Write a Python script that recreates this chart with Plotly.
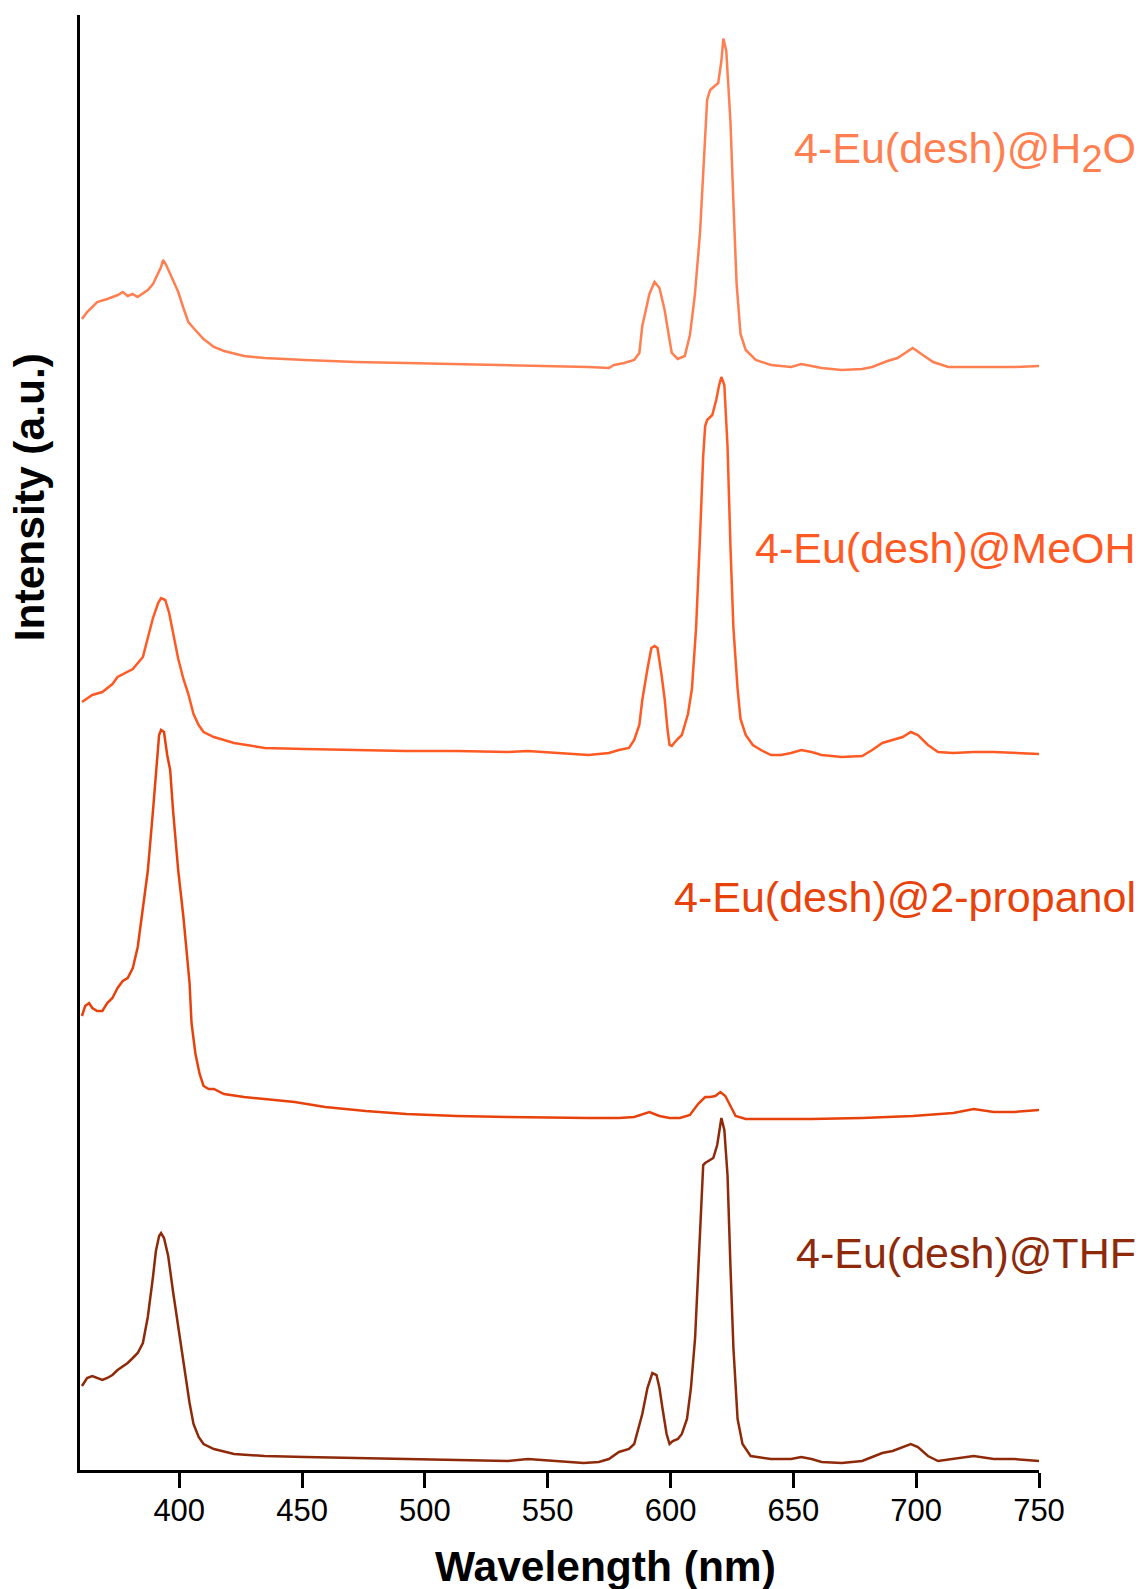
import plotly.graph_objects as go

# ---------------- data ----------------
wl_h2o = [360.4, 362.5, 366.6, 370.7, 375.0, 377.0, 379.0, 381.0, 383.0, 385.0, 387.2, 389.3, 391.4,
          392.6, 393.4, 394.7, 396.7, 399.6, 401.7, 403.7, 405.8, 409.9, 414.1, 418.2, 426.4,
          434.7, 451.2, 471.8, 492.4, 513.0, 533.7, 554.3, 566.6, 574.9, 577.0, 581.1, 585.2,
          587.3, 588.5, 591.4, 593.5, 595.5, 597.6, 599.6, 600.5, 602.9, 605.8, 607.9, 609.9,
          612.0, 614.1, 614.9, 616.1, 618.2, 619.4, 620.7, 621.5, 622.7, 624.4, 625.6, 626.9,
          628.5, 630.6, 634.7, 640.9, 649.1, 653.2, 657.4, 661.5, 669.7, 678.0, 682.1, 688.3,
          692.4, 695.7, 698.6, 702.7, 706.9, 713.1, 719.2, 739.9, 750.0]
int_h2o = [115.1, 115.8, 116.8, 117.1, 117.5, 117.8, 117.4, 117.6, 117.3, 117.6, 118.0, 118.6, 119.6,
           120.3, 121.0, 120.5, 119.4, 117.8, 116.2, 114.8, 114.2, 113.1, 112.3, 111.9, 111.4,
           111.2, 111.0, 110.8, 110.7, 110.6, 110.5, 110.4, 110.3, 110.2, 110.5, 110.7, 111.0,
           111.7, 114.4, 117.6, 118.8, 118.2, 116.0, 113.0, 111.7, 111.1, 111.4, 113.5, 117.5,
           123.7, 132.8, 137.0, 138.0, 138.4, 138.7, 140.9, 143.15, 141.9, 134.8, 126.7, 118.6,
           113.6, 112.0, 111.0, 110.5, 110.3, 110.6, 110.4, 110.2, 110.0, 110.1, 110.3, 110.9,
           111.2, 111.7, 112.2, 111.5, 110.8, 110.3, 110.3, 110.3, 110.4]

wl_meoh = [360.4, 364.6, 368.7, 372.8, 374.9, 377.0, 381.1, 385.2, 387.2, 389.3, 391.4, 392.6, 394.3,
           395.9, 397.5, 399.6, 401.7, 403.7, 405.8, 407.9, 409.9, 414.1, 422.3, 434.7, 451.2,
           471.8, 492.4, 513.0, 533.7, 541.9, 554.3, 566.6, 574.9, 579.0, 583.1, 585.2, 587.3,
           588.5, 590.6, 592.2, 593.5, 594.7, 596.3, 597.6, 598.8, 599.6, 600.5, 602.5, 604.6,
           607.1, 608.7, 610.4, 612.0, 613.3, 614.1, 614.9, 617.0, 618.6, 619.8, 620.7, 621.9,
           623.2, 624.4, 625.6, 627.3, 628.5, 630.6, 633.5, 636.8, 640.9, 645.0, 649.1, 653.2,
           657.4, 661.5, 669.7, 678.0, 682.1, 686.2, 690.4, 694.5, 697.8, 700.7, 704.8, 708.9,
           715.1, 723.4, 731.6, 739.9, 750.0]
int_meoh = [76.8, 77.5, 77.8, 78.6, 79.3, 79.6, 80.1, 81.3, 83.2, 85.2, 86.7, 87.2, 87.0,
            85.7, 83.7, 81.1, 79.1, 77.6, 75.6, 74.5, 73.8, 73.3, 72.7, 72.2, 72.1,
            72.0, 71.9, 71.9, 71.8, 71.9, 71.7, 71.5, 71.7, 72.0, 72.2, 73.0, 74.5,
            77.0, 80.1, 82.2, 82.4, 82.2, 79.6, 77.1, 74.0, 72.5, 72.4, 73.0, 73.5,
            75.6, 78.1, 84.2, 93.3, 101.4, 104.4, 105.0, 105.5, 107.0, 108.5, 109.3, 108.5,
            102.4, 92.3, 84.2, 78.1, 75.1, 73.5, 72.5, 72.0, 71.5, 71.5, 71.7, 72.0,
            71.8, 71.5, 71.3, 71.4, 72.0, 72.7, 73.0, 73.3, 73.8, 73.5, 72.5, 71.8,
            71.7, 71.8, 71.8, 71.7, 71.6]

wl_prop = [360.4, 361.7, 363.3, 364.6, 366.6, 368.7, 370.7, 372.8, 374.9, 377.0, 379.0, 381.1, 383.1,
           385.2, 387.2, 389.3, 390.5, 391.8, 392.6, 393.8, 395.1, 396.3, 397.5, 399.6, 401.7,
           402.9, 404.2, 405.0, 406.6, 408.3, 409.9, 412.0, 414.1, 418.2, 426.4, 434.7, 447.0,
           459.4, 475.9, 492.4, 513.0, 533.7, 554.3, 566.6, 579.0, 585.2, 591.4, 595.5, 599.6,
           603.8, 607.9, 611.2, 614.1, 616.1, 618.2, 620.3, 622.3, 624.4, 626.5, 630.6, 640.9,
           657.4, 678.0, 698.6, 715.1, 723.4, 731.6, 739.9, 750.0]
int_prop = [45.4, 46.4, 46.7, 46.2, 45.9, 45.9, 46.7, 47.2, 48.2, 48.9, 49.2, 50.2, 52.3,
            56.3, 59.9, 65.9, 70.0, 73.5, 74.0, 73.8, 71.5, 70.0, 65.9, 59.9, 55.3,
            51.7, 48.7, 44.7, 41.6, 39.6, 38.4, 38.1, 38.1, 37.6, 37.3, 37.1, 36.8,
            36.3, 35.9, 35.6, 35.4, 35.3, 35.2, 35.2, 35.2, 35.3, 35.8, 35.4, 35.2,
            35.2, 35.5, 36.6, 37.3, 37.3, 37.4, 37.8, 37.4, 36.4, 35.4, 35.1, 35.1,
            35.1, 35.2, 35.4, 35.7, 36.1, 35.8, 35.8, 36.0]

wl_thf = [360.4, 362.5, 364.6, 368.7, 370.7, 372.8, 374.9, 377.0, 379.0, 381.1, 383.1, 385.2, 387.2,
          389.3, 390.5, 391.8, 392.6, 393.8, 395.5, 397.5, 399.6, 401.7, 402.9, 404.2, 405.8,
          407.9, 409.9, 414.1, 422.3, 434.7, 451.2, 471.8, 492.4, 513.0, 533.7, 541.9, 554.3,
          564.6, 570.8, 574.9, 579.0, 583.1, 585.2, 587.3, 588.5, 590.6, 592.6, 594.3, 595.5,
          596.7, 598.4, 599.6, 600.9, 603.0, 604.6, 606.7, 608.3, 610.0, 611.6, 613.3, 614.1,
          616.1, 617.4, 619.0, 620.7, 621.9, 623.2, 624.4, 625.6, 627.3, 629.3, 632.6, 640.9,
          649.1, 653.2, 657.4, 661.5, 669.7, 678.0, 682.1, 686.2, 690.4, 694.5, 697.8, 700.7,
          704.8, 708.9, 715.1, 723.4, 731.6, 739.9, 750.0]
int_thf = [8.4, 9.2, 9.4, 9.0, 9.2, 9.5, 10.0, 10.4, 10.7, 11.2, 11.7, 12.7, 15.3,
           19.3, 21.9, 23.4, 23.7, 23.2, 21.4, 17.8, 14.3, 11.2, 9.2, 6.7, 4.6,
           3.3, 2.6, 2.1, 1.6, 1.4, 1.3, 1.2, 1.1, 1.0, 0.9, 1.1, 0.9,
           0.7, 0.8, 1.1, 1.8, 2.1, 2.6, 4.6, 5.6, 8.2, 9.7, 9.5, 8.2,
           6.2, 3.6, 2.6, 2.9, 3.1, 3.6, 5.1, 8.2, 13.2, 22.4, 30.5, 30.7,
           31.0, 31.2, 32.5, 35.2, 34.0, 29.5, 20.3, 12.2, 5.1, 2.6, 1.4, 1.1,
           1.1, 1.3, 1.1, 0.8, 0.7, 0.9, 1.3, 1.7, 1.9, 2.3, 2.6, 2.3,
           1.4, 0.9, 1.1, 1.4, 1.1, 1.1, 0.9]

series_names = ["4-Eu(desh)@H<sub><span style='font-size:38px'>2</span></sub>O", "4-Eu(desh)@MeOH",
                "4-Eu(desh)@2-propanol", "4-Eu(desh)@THF"]
series_colors = ["#FF7F50", "#FF5A24", "#E8420C", "#8E2A0A"]
label_y = [0.906, 0.634, 0.394, 0.149]
x_ticks = [400, 450, 500, 550, 600, 650, 700, 750]

FONT = "Arial, 'Liberation Sans', sans-serif"

fig = go.Figure()
for wl, inten, name, col in zip([wl_h2o, wl_meoh, wl_prop, wl_thf],
                                [int_h2o, int_meoh, int_prop, int_thf],
                                series_names, series_colors):
    fig.add_trace(go.Scatter(x=wl, y=inten, mode="lines", name=name,
                             line=dict(color=col, width=2.5), showlegend=False))

for name, col, yy in zip(series_names, series_colors, label_y):
    fig.add_annotation(xref="paper", yref="paper", x=1.103, y=yy, xanchor="right", yanchor="middle",
                       text=name, showarrow=False, font=dict(family=FONT, size=43, color=col))

fig.add_annotation(xref="paper", yref="paper", x=-0.053, y=0.6687, xanchor="center", yanchor="middle",
                   text="<b>Intensity (a.u.)</b>", textangle=-90, showarrow=False,
                   font=dict(family=FONT, size=42.5, color="black"))
fig.add_annotation(xref="paper", yref="paper", x=0.548, y=-0.066, xanchor="center", yanchor="middle",
                   text="<b>Wavelength (nm)</b>", showarrow=False,
                   font=dict(family=FONT, size=42.5, color="black"))

fig.update_layout(
    width=1141, height=1589,
    margin=dict(l=80, r=102, t=15, b=119),
    paper_bgcolor="white", plot_bgcolor="white",
    font=dict(family=FONT, color="black"),
    xaxis=dict(range=[359.6, 750], tickvals=x_ticks, ticks="outside", ticklen=15, tickwidth=2.5,
               tickcolor="black", showline=True, linecolor="black", linewidth=2.5, showgrid=False,
               zeroline=False, tickfont=dict(size=31, family=FONT, color="black"),
               ticklabelstandoff=-4, automargin=False),
    yaxis=dict(range=[0, 145.5], showticklabels=False, ticks="", showline=True, linecolor="black",
               linewidth=2.5, showgrid=False, zeroline=False, automargin=False),
)

fig.write_html("out.html")
